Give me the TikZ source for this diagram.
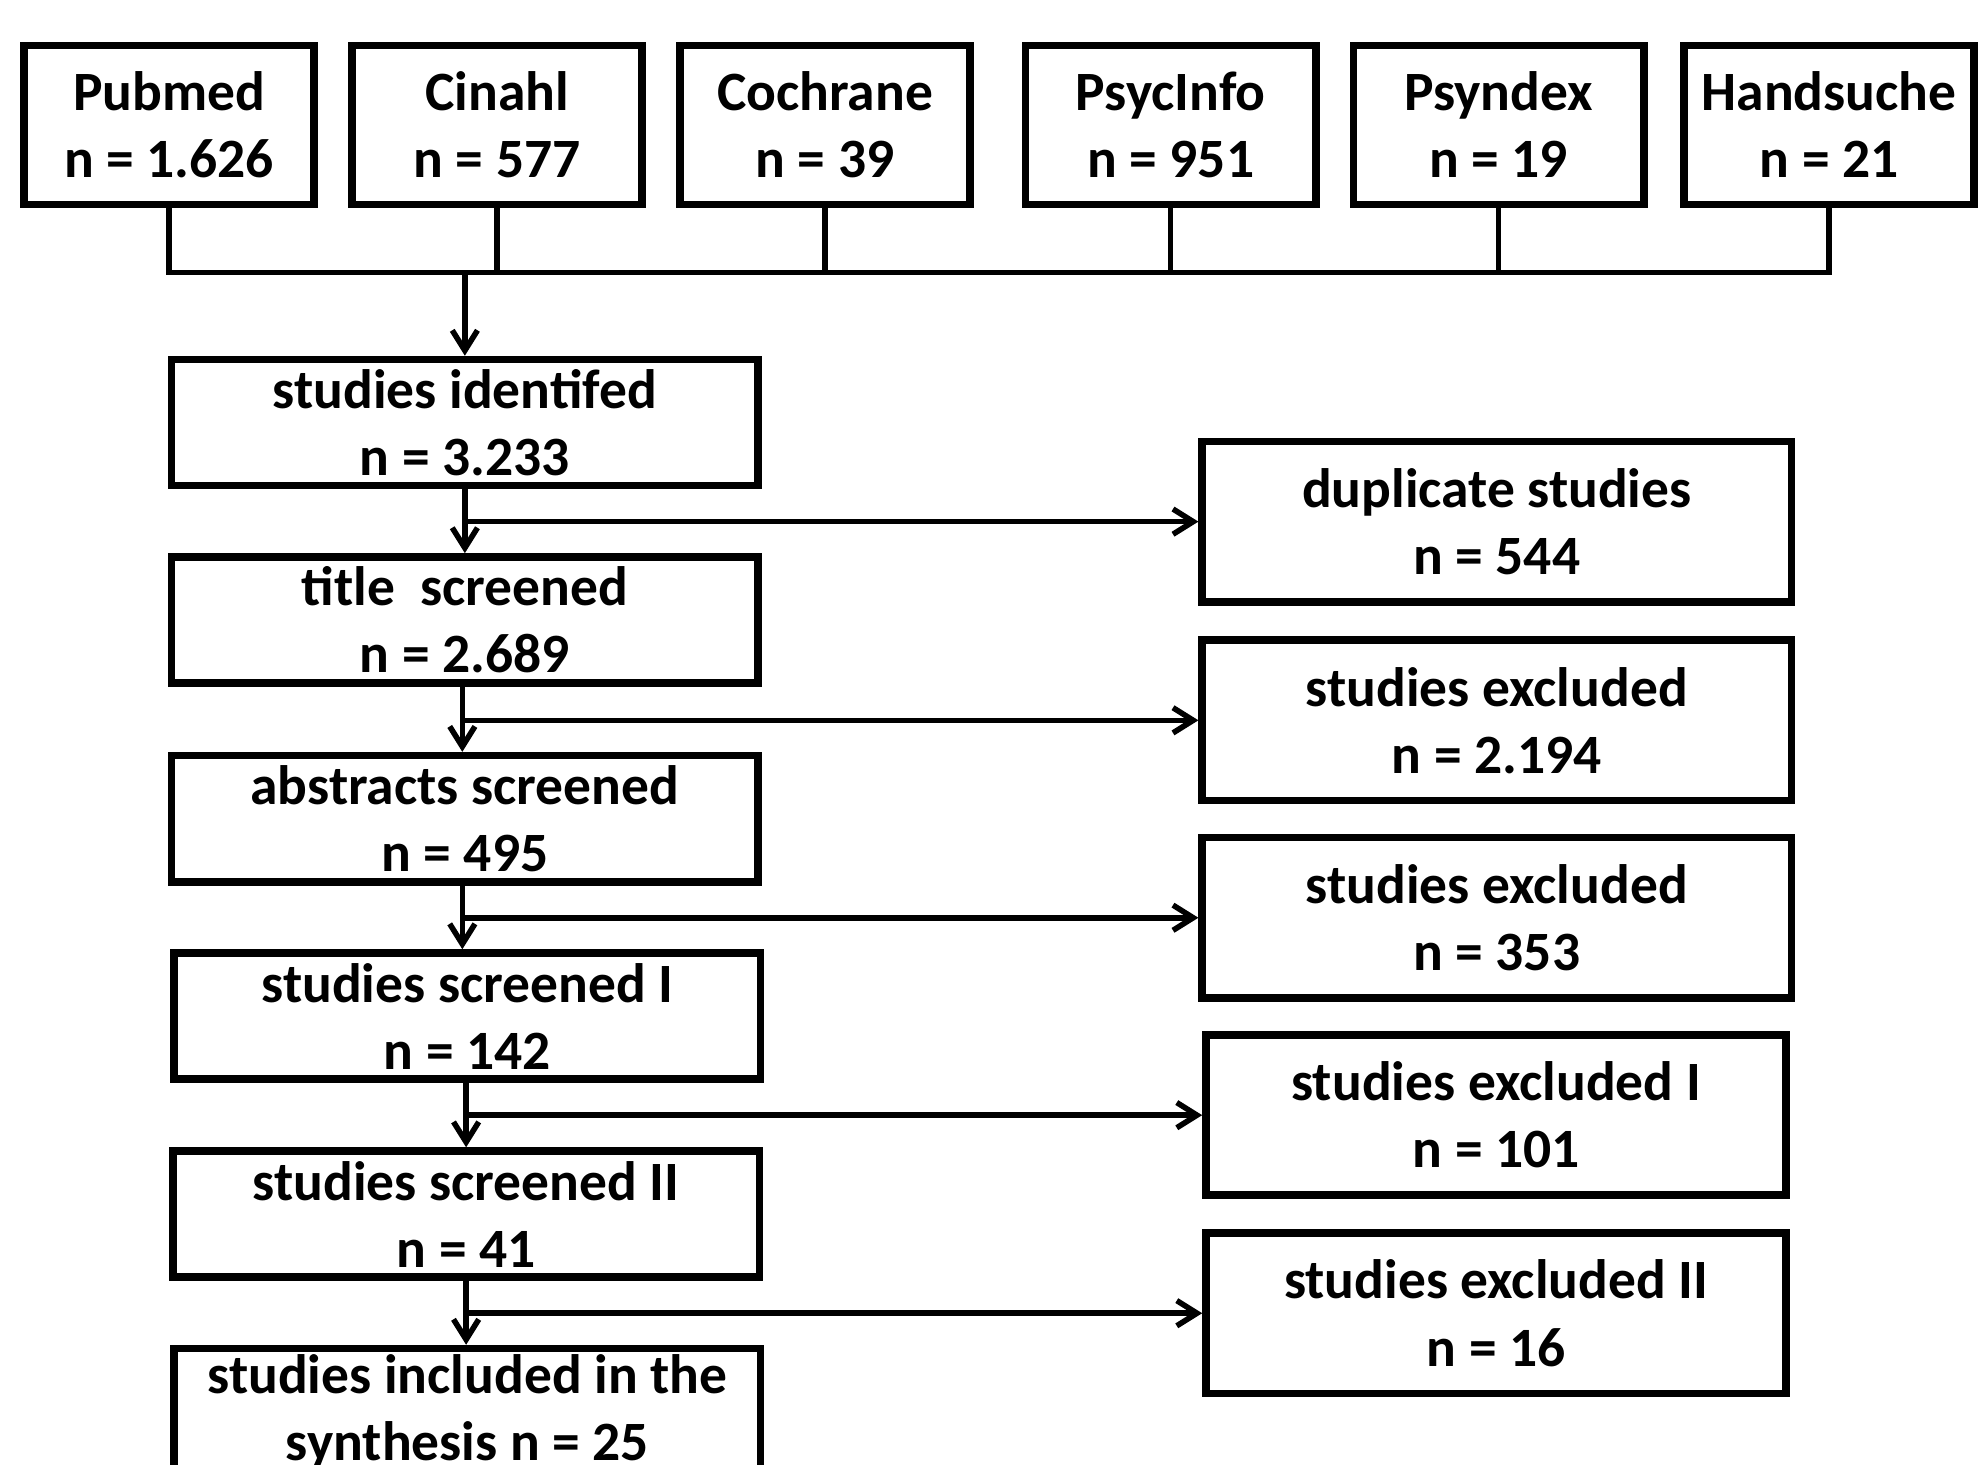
\documentclass[tikz,border=0pt]{standalone}
\usepackage{fontspec}
\setmainfont{Carlito}
\usetikzlibrary{arrows.meta}
\begin{document}
\begin{tikzpicture}[x=0.5pt,y=-0.5pt,
  box/.style={draw, line width=3pt, align=center, inner sep=0pt,
    font=\fontsize{22}{26.6}\selectfont\bfseries},
  src/.style={box, minimum width=115pt, minimum height=63pt},
  stage/.style={box, minimum width=232.5pt, minimum height=50pt},
  excl/.style={box, minimum width=233.5pt, minimum height=63.5pt},
  conn/.style={line width=2.2pt},
  arr/.style={conn, -{Straight Barb[length=8pt,width=10pt,line width=2.2pt]}}
]
\clip (0,0) rectangle (1568,1161);
\fill[white] (0,0) rectangle (1568,1161);

% sources
\node[src] (pub) at (134,99) {Pubmed\\n = 1.626};
\node[src] (cin) at (394,99) {Cinahl\\n = 577};
\node[src] (coc) at (654,99) {Cochrane\\n = 39};
\node[src] (psi) at (928,99) {PsycInfo\\n = 951};
\node[src] (psd) at (1188,99) {Psyndex\\n = 19};
\node[src] (han) at (1450,99) {Handsuche\\n = 21};

% left column
\node[stage] (ident) at (368.5,335) {studies identifed\\n = 3.233};
\node[stage] (title) at (368.5,491.5) {title\ \ screened\\n = 2.689};
\node[stage] (abstr) at (368.5,649) {abstracts screened\\n = 495};
\node[stage] (scr1) at (370.5,805.5) {studies screened I\\n = 142};
\node[stage] (scr2) at (369.5,962.5) {studies screened II\\n = 41};
\node[stage] (incl) at (370.5,1119) {studies included in the\\synthesis n = 25};

% right column
\node[excl] (dup) at (1186.5,413.5) {duplicate studies\\n = 544};
\node[excl] (ex1) at (1186.5,571) {studies excluded\\n = 2.194};
\node[excl] (ex2) at (1186.5,727.5) {studies excluded\\n = 353};
\node[excl, minimum width=230pt] (exI) at (1186,884) {studies excluded I\\n = 101};
\node[excl, minimum width=230pt] (exII) at (1186,1041) {studies excluded II\\n = 16};

% bus
\coordinate (b1) at (pub.south |- 0,216);
\coordinate (b6) at (han.south |- 0,216);
\coordinate (bm) at (ident.north |- 0,216);
\draw[conn] (pub.south) -- (b1) -- (b6) -- (han.south);
\foreach \s in {cin,coc,psi,psd} \draw[conn] (\s.south) -- (\s.south |- b1);
\draw[arr] (bm) -- (ident.north);

% vertical flow
\draw[arr] (ident.south) -- (ident.south |- title.north);
\draw[arr] ([xshift=-1pt]title.south) -- ([xshift=-1pt]title.south |- abstr.north);
\draw[arr] ([xshift=-1pt]abstr.south) -- ([xshift=-1pt]abstr.south |- scr1.north);
\draw[arr] ([xshift=-0.5pt]scr1.south) -- ([xshift=-0.5pt]scr1.south |- scr2.north);
\draw[arr] (scr2.south) -- (scr2.south |- incl.north);

% branches
\coordinate (j1) at (ident.south |- dup.west);
\coordinate (j2) at ([xshift=-1pt]title.south |- ex1.west);
\coordinate (j3) at ([xshift=-1pt]abstr.south |- ex2.west);
\coordinate (j4) at ([xshift=-0.5pt]scr1.south |- exI.west);
\coordinate (j5) at (scr2.south |- exII.west);
\draw[arr] (j1) -- (dup.west);
\draw[arr] (j2) -- (ex1.west);
\draw[arr] (j3) -- (ex2.west);
\draw[arr] (j4) -- (exI.west);
\draw[arr] (j5) -- (exII.west);
\end{tikzpicture}
\end{document}
